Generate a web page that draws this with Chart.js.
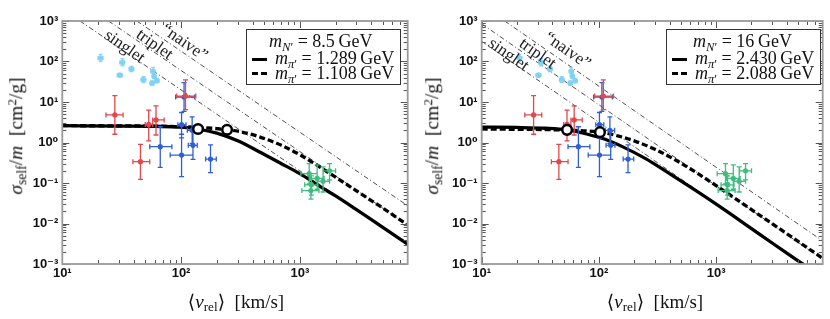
<!DOCTYPE html>
<html>
<head>
<meta charset="utf-8">
<script src="https://cdn.jsdelivr.net/npm/chart.js@4.4.1/dist/chart.umd.min.js"></script>
<style>
    body { margin: 0; background: #fff; }
    #page { position: relative; width: 830px; height: 319px; overflow: hidden; font-family: "Liberation Serif", "DejaVu Serif", serif; color: #111; }
    .panel { position: absolute; top: 0; width: 415px; height: 319px; }
    .panel canvas { position: absolute; left: 0; top: 0; }
    .ytitle, .xtitle, .tag { position: absolute; white-space: nowrap; line-height: 1; }
    .ytitle { transform: translate(-50%, -50%) rotate(-90deg); font-size: 19.5px; }
    .xtitle { transform: translate(-50%, -50%); font-size: 19px; }
    .tag { transform: translate(-50%, -50%) rotate(35deg); font-size: 17px; color: #222; }
    .legend { position: absolute; top: 29px; width: 155px; height: 56px; box-sizing: border-box; border: 1.5px solid #333; background: #fff; }
    .legend .row { position: absolute; white-space: nowrap; font-size: 18px; line-height: 18px; }
    .legend .swatch { position: absolute; left: 5px; width: 15px; height: 3px; background: #000; }
    .legend .swatch.dash { background: repeating-linear-gradient(90deg, #000 0 6px, transparent 6px 9px); }
    sub { font-size: 70%; vertical-align: -0.3em; line-height: 0; }
    sup { font-size: 68%; vertical-align: 0.45em; line-height: 0; }
</style>
</head>
<body>
<div id="page">
    <div class="panel" id="panel-left" style="left:0"><canvas id="chart-left" width="415" height="319"></canvas></div>
    <div class="panel" id="panel-right" style="left:415px"><canvas id="chart-right" width="415" height="319"></canvas></div>
</div>
<script>
const xTickValues = [10, 100, 1000];
const xTickLabels = ["10\u00b9", "10\u00b2", "10\u00b3"];
const yTickValues = [0.001, 0.01, 0.1, 1, 10, 100, 1000];
const yTickLabels = ["10\u207b\u00b3", "10\u207b\u00b2", "10\u207b\u00b9", "10\u2070", "10\u00b9", "10\u00b2", "10\u00b3"];

// rows: [v, vLow, vHigh, sigma, sigmaLow, sigmaHigh]  (same data in both panels)
const cyanPoints = [
    [21, 20, 22, 122, 100, 150],
    [32.1, 30.5, 33.5, 95, 78, 118],
    [30.5, 29, 32, 46, 42, 50],
    [38.2, 36.5, 40, 65, 56, 76],
    [48.2, 46, 50.5, 35.6, 30, 42],
    [58, 56, 60, 57, 46, 72],
    [57, 55, 59, 29, 26, 33],
    [62.7, 60.5, 65, 33.6, 30, 38],
    [59.4, 57.5, 61.5, 43, 38, 48],
];
const redPoints = [
    [27.7, 23.3, 32.5, 4.8, 1.6, 14.3],
    [45.5, 39.3, 54.5, 0.336, 0.123, 0.9],
    [53.4, 50, 57.7, 2.8, 1.1, 6.3],
    [61.5, 57.7, 72, 3.6, 1.53, 8.0],
    [109, 92, 133, 14, 6.5, 35],
];
const bluePoints = [
    [106, 90, 130, 13.3, 5.9, 30],
    [66.8, 54.5, 83.7, 0.79, 0.244, 2.45],
    [101, 94, 110, 2.75, 1.3, 5.5],
    [101, 81, 126, 0.49, 0.143, 1.6],
    [124, 113, 136, 2.0, 0.95, 4.3],
    [126, 115, 137, 0.85, 0.385, 1.9],
    [177, 161, 198, 0.39, 0.18, 0.87],
];
const greenPoints = [
    [1200, 1020, 1400, 0.17, 0.095, 0.3],
    [1240, 1040, 1450, 0.065, 0.04, 0.1],
    [1250, 1100, 1420, 0.09, 0.05, 0.15],
    [1400, 1230, 1600, 0.13, 0.07, 0.28],
    [1570, 1400, 1780, 0.11, 0.06, 0.25],
    [1780, 1580, 2000, 0.2, 0.12, 0.3],
];

// left panel, m_N' = 8.5 GeV
const leftCurveV = [10, 30, 60, 100, 140, 200, 300, 450, 700, 1000, 1500, 2000, 3000, 5000, 8100];
const leftSolid = [2.6, 2.55, 2.5, 2.4, 2.15, 1.7, 1.1, 0.6, 0.3, 0.17, 0.08, 0.048, 0.022, 0.008, 0.0031];
const leftDashed = [2.6, 2.58, 2.55, 2.45, 2.35, 2.2, 1.9, 1.4, 0.85, 0.5, 0.24, 0.14, 0.064, 0.024, 0.0092];
const leftCircles = [[139, 2.15], [244, 2.07]];
const leftSinglet = [[14.1, 1000], [8100, 0.00305]];
const leftTriplet = [[24.5, 1000], [8100, 0.0091]];
const leftNaive = [[42.4, 1000], [8100, 0.0274]];

// right panel, m_N' = 16 GeV
const rightSolidV = [10, 20, 35, 53.5, 80, 113, 160, 250, 400, 600, 1000, 2000, 3000, 5000, 8100];
const rightSolid = [2.4, 2.35, 2.25, 2.05, 1.6, 1.2, 0.78, 0.4, 0.17, 0.08, 0.03, 0.0075, 0.0033, 0.0012, 0.00046];
const rightDashedV = [10, 50, 102, 150, 200, 300, 450, 700, 1000, 1500, 2000, 3000, 5000, 8100];
const rightDashed = [2.15, 2.03, 1.8, 1.42, 1.1, 0.68, 0.37, 0.17, 0.086, 0.039, 0.022, 0.0099, 0.0036, 0.00138];
const rightCircles = [[53.5, 2.05], [102, 1.8]];
const rightSinglet = [[10, 316], [8100, 0.00048]];
const rightTriplet = [[10, 850], [8100, 0.0013]];
const rightNaive = [[15.7, 1000], [8100, 0.0037]];

const massN = ["8.5", "16"];
const massPiSolid = ["1.289", "2.430"];
const massPiDashed = ["1.108", "2.088"];

const colors = {
    cyan: "rgba(125, 208, 245, 0.85)",
    red: "#e2474b",
    blue: "#2f5fd3",
    green: "#3dbd7e",
};

function toXY(xs, ys) {
    return xs.map((x, i) => ({ x, y: ys[i] }));
}

function pairsToXY(pairs) {
    return pairs.map(([x, y]) => ({ x, y }));
}

function minorValues(lo, hi) {
    const out = [];
    for (let d = Math.floor(Math.log10(lo)); d <= Math.ceil(Math.log10(hi)); d++) {
        for (let k = 1; k <= 9; k++) {
            const v = k * Math.pow(10, d);
            if (v >= lo * 0.999 && v <= hi * 1.001) {
                out.push({ v, major: k === 1 });
            }
        }
    }
    return out;
}

const errorBars = {
    id: "errorBars",
    beforeDatasetDraw(chart, args) {
        const ds = chart.data.datasets[args.index];
        if (!ds.rows) {
            return;
        }
        const { ctx, chartArea: a, scales: { x, y } } = chart;
        ctx.save();
        ctx.beginPath();
        ctx.rect(a.left, a.top, a.right - a.left, a.bottom - a.top);
        ctx.clip();
        ctx.strokeStyle = ds.backgroundColor;
        ctx.lineWidth = ds.errWidth;
        const cap = ds.capSize;
        ctx.beginPath();
        for (const [v, vLo, vHi, s, sLo, sHi] of ds.rows) {
            const px = x.getPixelForValue(v);
            const py = y.getPixelForValue(s);
            const x0 = x.getPixelForValue(vLo);
            const x1 = x.getPixelForValue(vHi);
            const y0 = y.getPixelForValue(sLo);
            const y1 = y.getPixelForValue(sHi);
            ctx.moveTo(x0, py); ctx.lineTo(x1, py);
            ctx.moveTo(x0, py - cap); ctx.lineTo(x0, py + cap);
            ctx.moveTo(x1, py - cap); ctx.lineTo(x1, py + cap);
            ctx.moveTo(px, y0); ctx.lineTo(px, y1);
            ctx.moveTo(px - cap, y0); ctx.lineTo(px + cap, y0);
            ctx.moveTo(px - cap, y1); ctx.lineTo(px + cap, y1);
        }
        ctx.stroke();
        ctx.restore();
    },
};

const frameTicks = {
    id: "frameTicks",
    afterDraw(chart) {
        const { ctx, chartArea: a, scales: { x, y } } = chart;
        ctx.save();
        ctx.strokeStyle = "#555";
        ctx.lineWidth = 1;
        ctx.beginPath();
        for (const t of minorValues(x.min, x.max)) {
            const px = Math.round(x.getPixelForValue(t.v)) + 0.5;
            const len = t.major ? 7 : 4;
            ctx.moveTo(px, a.bottom); ctx.lineTo(px, a.bottom - len);
            ctx.moveTo(px, a.top); ctx.lineTo(px, a.top + len);
        }
        for (const t of minorValues(y.min, y.max)) {
            const py = Math.round(y.getPixelForValue(t.v)) + 0.5;
            const len = t.major ? 7 : 4;
            ctx.moveTo(a.left, py); ctx.lineTo(a.left + len, py);
            ctx.moveTo(a.right, py); ctx.lineTo(a.right - len, py);
        }
        ctx.stroke();
        ctx.strokeStyle = "#9a9a9a";
        ctx.lineWidth = 1.8;
        ctx.strokeRect(a.left, a.top, a.right - a.left, a.bottom - a.top);
        ctx.restore();
    },
};

function refLine(data) {
    return {
        data: pairsToXY(data),
        showLine: true,
        borderColor: "#3a3a3a",
        borderWidth: 0.9,
        borderDash: [5, 2.5, 1, 2.5],
        pointRadius: 0,
        order: 10,
    };
}

function curve(data, dash) {
    return {
        data,
        showLine: true,
        borderColor: "#000",
        borderWidth: 3.3,
        borderDash: dash,
        cubicInterpolationMode: "monotone",
        pointRadius: 0,
        order: 4,
    };
}

function pointSet(rows, color, radius, errWidth, capSize) {
    return {
        data: rows.map((r) => ({ x: r[0], y: r[3] })),
        rows,
        backgroundColor: color,
        borderWidth: 0,
        pointRadius: radius,
        errWidth,
        capSize,
        order: 2,
    };
}

const tickFont = { family: "Liberation Sans, Arial, DejaVu Sans, sans-serif", size: 13, weight: "bold" };

function makeChart(canvasId, p) {
    return new Chart(document.getElementById(canvasId), {
        type: "scatter",
        data: {
            datasets: [
                refLine(p.singlet),
                refLine(p.triplet),
                refLine(p.naive),
                curve(p.solid, []),
                curve(p.dashed, [6, 3]),
                pointSet(cyanPoints, colors.cyan, 2.8, 1.3, 2),
                pointSet(redPoints, colors.red, 2.6, 1.3, 2.5),
                pointSet(bluePoints, colors.blue, 2.6, 1.3, 2.5),
                pointSet(greenPoints, colors.green, 2.6, 1.3, 2.5),
                {
                    data: pairsToXY(p.circles),
                    pointRadius: 4.8,
                    pointBorderWidth: 2.5,
                    pointBorderColor: "#000",
                    pointBackgroundColor: "#fff",
                    order: 0,
                },
            ],
        },
        options: {
            responsive: false,
            animation: false,
            events: [],
            layout: { padding: { top: 21, right: p.padRight, left: 0, bottom: 0 } },
            plugins: { legend: { display: false }, tooltip: { enabled: false } },
            scales: {
                x: {
                    type: "logarithmic",
                    min: 10,
                    max: 8100,
                    afterBuildTicks: (s) => { s.ticks = xTickValues.map((value) => ({ value })); },
                    afterFit: (s) => { s.height = 55; },
                    grid: { display: false, drawTicks: false },
                    border: { display: false },
                    ticks: {
                        autoSkip: false,
                        maxRotation: 0,
                        padding: 2,
                        color: "#111",
                        font: tickFont,
                        callback: (value, index) => xTickLabels[index],
                    },
                },
                y: {
                    type: "logarithmic",
                    min: 0.001,
                    max: 1000,
                    afterBuildTicks: (s) => { s.ticks = yTickValues.map((value) => ({ value })); },
                    afterFit: (s) => { s.width = p.axisWidth; },
                    grid: { display: false, drawTicks: false },
                    border: { display: false },
                    ticks: {
                        autoSkip: false,
                        padding: 4,
                        color: "#111",
                        font: tickFont,
                        callback: (value, index) => yTickLabels[index],
                    },
                },
            },
        },
        plugins: [errorBars, frameTicks],
    });
}

function addOverlay(panelId, p, i) {
    const panel = document.getElementById(panelId);
    const html = `
        <div class="ytitle" style="left:${p.yTitleX}px;top:136px"><i>σ</i><sub>self</sub>/<i>m</i>&nbsp;&nbsp;[cm<sup>2</sup>/g]</div>
        <div class="xtitle" style="left:${p.xTitleX}px;top:301px">⟨<i>v</i><sub>rel</sub>⟩&nbsp;&nbsp;[km/s]</div>
        <div class="tag" style="left:${p.tags[0][0]}px;top:${p.tags[0][1]}px">singlet</div>
        <div class="tag" style="left:${p.tags[1][0]}px;top:${p.tags[1][1]}px">triplet</div>
        <div class="tag" style="left:${p.tags[2][0]}px;top:${p.tags[2][1]}px">“naive”</div>
        <div class="legend" style="left:${p.legendX}px">
            <div class="row" style="left:${p.row1X}px;top:2px"><i>m</i><sub><i>N</i>′</sub> = ${massN[i]}&thinsp;GeV</div>
            <div class="swatch" style="top:28px"></div>
            <div class="row" style="left:${p.rowX}px;top:19px"><i>m</i><sub><i>π</i>′</sub> = ${massPiSolid[i]}&thinsp;GeV</div>
            <div class="swatch dash" style="top:42px"></div>
            <div class="row" style="left:${p.rowX}px;top:34px"><i>m</i><sub><i>π</i>′</sub> = ${massPiDashed[i]}&thinsp;GeV</div>
        </div>`;
    panel.insertAdjacentHTML("beforeend", html);
}

makeChart("chart-left", {
    singlet: leftSinglet, triplet: leftTriplet, naive: leftNaive,
    solid: toXY(leftCurveV, leftSolid), dashed: toXY(leftCurveV, leftDashed),
    circles: leftCircles, axisWidth: 62.3, padRight: 4.3,
});
makeChart("chart-right", {
    singlet: rightSinglet, triplet: rightTriplet, naive: rightNaive,
    solid: toXY(rightSolidV, rightSolid), dashed: toXY(rightDashedV, rightDashed),
    circles: rightCircles, axisWidth: 66.7, padRight: 0.7,
});

addOverlay("panel-left", {
    yTitleX: 16, xTitleX: 236, legendX: 246, row1X: 22, rowX: 28,
    tags: [[125, 46], [155, 44], [185, 42]],
}, 0);
addOverlay("panel-right", {
    yTitleX: 17, xTitleX: 240, legendX: 251, row1X: 26, rowX: 28,
    tags: [[94, 54], [123, 53], [153, 50]],
}, 1);
</script>
</body>
</html>
